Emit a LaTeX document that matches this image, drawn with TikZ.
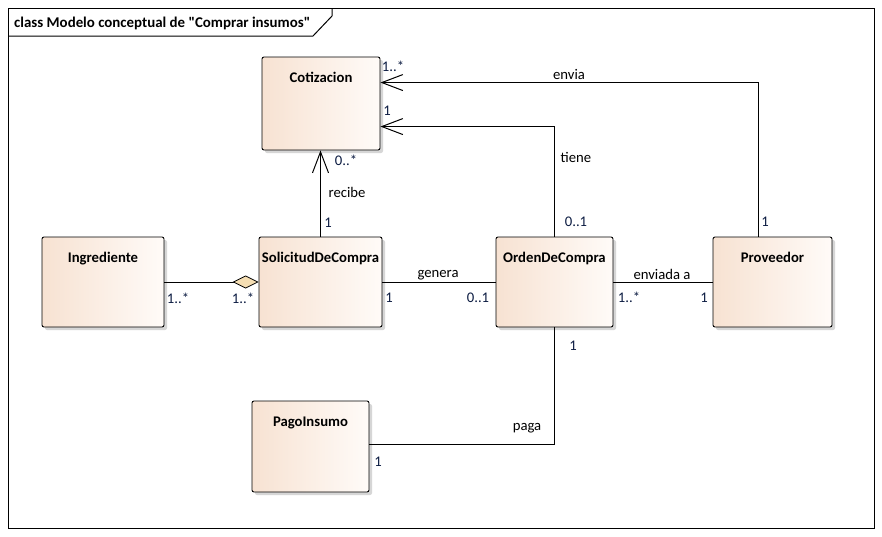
\documentclass[tikz,border=0pt]{standalone}
\usepackage{fontspec}
\setmainfont{Carlito}[Ligatures=TeXOff]
\usetikzlibrary{arrows.meta,shadows,calc}
\definecolor{boxleft}{RGB}{247,226,210}
\definecolor{boxright}{RGB}{255,251,248}
\definecolor{tanfill}{RGB}{245,222,179}
\definecolor{multc}{RGB}{12,28,66}
\tikzset{
  umlbox/.style={draw=black, line width=0.9pt, rounded corners=2pt,
    left color=boxleft, right color=boxright, inner sep=0pt,
    drop shadow={shadow xshift=3pt, shadow yshift=-3pt, fill=black!16, opacity=1}},
  boxtitle/.style={anchor=base, font=\fontsize{14.7}{17}\selectfont\bfseries, inner sep=0pt},
  lbl/.style={anchor=base, font=\fontsize{14.7}{17}\selectfont, inner sep=0pt},
  mult/.style={lbl, text=multc},
  assoc/.style={draw=black, line width=1pt},
  navarrow/.style={-{Straight Barb[length=21pt,width=16pt,line width=1pt]}},
  aggr/.style={{Diamond[length=26pt,width=13pt,fill=tanfill,line width=0.8pt]}-}
}
\begin{document}
\begin{tikzpicture}[x=1pt,y=-1pt]
\useasboundingbox (0,0) rectangle (882,536);
\fill[white] (0,0) rectangle (882,536);
% frame
\draw[line width=1pt] (8,8) rectangle (874,528);
\draw[line width=1pt] (8,36) -- (313,36) -- (332,16) -- (332,8);
\node[anchor=base west, inner sep=0pt, font=\fontsize{14.9}{17}\selectfont\bfseries] (frametitle) at (14,27) {class Modelo conceptual de "Comprar insumos"};

% boxes
\node[umlbox, minimum width=118pt, minimum height=93pt] (cot) at (321,103.5) {};
\node[boxtitle] (cotT) at ($(cot.north)+(0,26)$) {Cotizacion};
\node[umlbox, minimum width=122pt, minimum height=90pt] (ing) at (103,282) {};
\node[boxtitle] (ingT) at ($(ing.north)+(0,26)$) {Ingrediente};
\node[umlbox, minimum width=123pt, minimum height=90pt] (sol) at (320.5,282) {};
\node[boxtitle] (solT) at ($(sol.north)+(0,26)$) {SolicitudDeCompra};
\node[umlbox, minimum width=117pt, minimum height=90pt] (ord) at (554.5,282) {};
\node[boxtitle] (ordT) at ($(ord.north)+(0,26)$) {OrdenDeCompra};
\node[umlbox, minimum width=119pt, minimum height=90pt] (prov) at (772.5,282) {};
\node[boxtitle] (provT) at ($(prov.north)+(0,26)$) {Proveedor};
\node[umlbox, minimum width=117pt, minimum height=91pt] (pago) at (310.5,446.5) {};
\node[boxtitle] (pagoT) at ($(pago.north)+(0,26)$) {PagoInsumo};

% connectors
\coordinate (enviaStart) at ($(prov.north)+(-14.5,0)$);
\coordinate (enviaEnd) at ($(cot.north east)+(0,26)$);
\coordinate (tieneEnd) at ($(cot.north east)+(0,70)$);
\draw[assoc, navarrow] (enviaStart) |- (enviaEnd);
\draw[assoc, navarrow] (ord.north) |- (tieneEnd);
\draw[assoc, navarrow] (sol.north) -- (sol.north |- cot.south);
\draw[assoc, aggr] (sol.west) -- (ing.east);
\draw[assoc] (sol.east) -- (ord.west);
\draw[assoc] (ord.east) -- (prov.west);
\coordinate (pagaEnd) at ($(pago.north east)+(0,44)$);
\draw[assoc] (ord.south) |- (pagaEnd);

% labels
\node[mult] (m1) at (393,71) {1..*};
\node[lbl] (lenvia) at (569,79) {envia};
\node[mult] (m2) at (387,115) {1};
\node[lbl] (ltiene) at (576,162) {tiene};
\node[mult] (m3) at (576,226) {0..1};
\node[mult] (m4) at (765,226) {1};
\node[mult] (m5) at (346,165) {0..*};
\node[lbl] (lrecibe) at (347,197) {recibe};
\node[mult] (m6) at (328,227) {1};
\node[mult] (m7) at (178,303) {1..*};
\node[mult] (m8) at (243,303) {1..*};
\node[mult] (m9) at (389,302) {1};
\node[lbl] (lgenera) at (438,277) {genera};
\node[mult] (m10) at (478,302) {0..1};
\node[lbl] (lenviada) at (662,279) {enviada a};
\node[mult] (m11) at (629,302) {1..*};
\node[mult] (m12) at (704,302) {1};
\node[mult] (m13) at (573,350) {1};
\node[lbl] (lpaga) at (527,430) {paga};
\node[mult] (m14) at (378,466) {1};
\end{tikzpicture}
\end{document}
